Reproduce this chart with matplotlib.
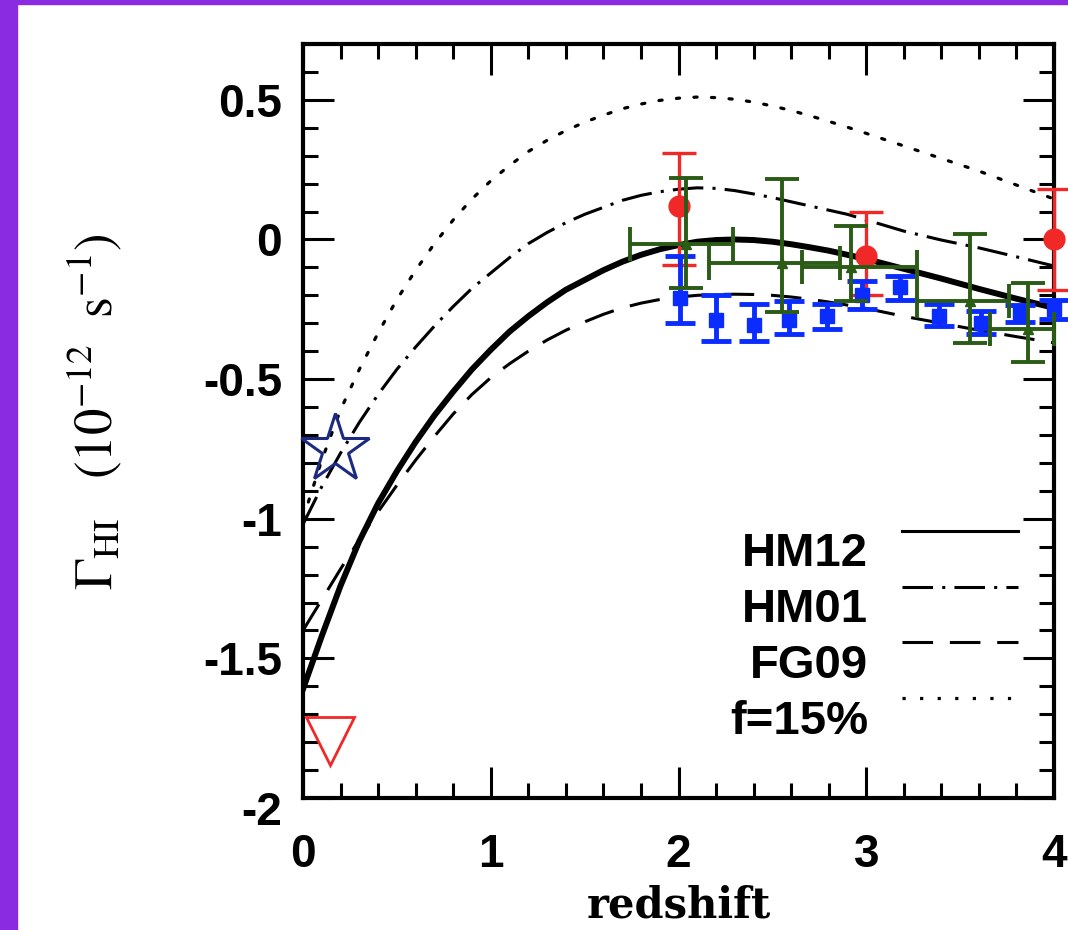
import numpy as np
import matplotlib
matplotlib.use("Agg")
import matplotlib.pyplot as plt
from matplotlib.lines import Line2D
from matplotlib.patches import Rectangle
from matplotlib.legend_handler import HandlerLine2D
from matplotlib.transforms import ScaledTranslation

# model curves: log10 Gamma_HI (1e-12 s^-1) vs redshift
z_model = [0.0, 0.1, 0.2, 0.3, 0.4, 0.5, 0.6, 0.7, 0.8, 0.9, 1.0, 1.1, 1.2, 1.3, 1.4,
           1.5, 1.6, 1.7, 1.8, 1.9, 2.0, 2.1, 2.2, 2.3, 2.4, 2.5, 2.6, 2.7, 2.8, 2.9,
           3.0, 3.2, 3.4, 3.6, 3.8, 4.0]
hm12 = [-1.61, -1.42, -1.24, -1.08, -0.945, -0.83, -0.725, -0.63, -0.545, -0.465,
        -0.395, -0.33, -0.275, -0.225, -0.18, -0.145, -0.11, -0.08, -0.055, -0.035,
        -0.02, -0.008, -0.002, 0.0, -0.002, -0.008, -0.017, -0.028, -0.04, -0.055,
        -0.07, -0.105, -0.14, -0.177, -0.212, -0.245]
hm01 = [-1.02, -0.885, -0.765, -0.655, -0.555, -0.465, -0.385, -0.31, -0.24, -0.175,
        -0.12, -0.065, -0.015, 0.025, 0.06, 0.09, 0.115, 0.14, 0.158, 0.171, 0.18,
        0.185, 0.183, 0.175, 0.163, 0.15, 0.135, 0.12, 0.105, 0.09, 0.07, 0.03,
        -0.002, -0.03, -0.062, -0.095]
fg09 = [-1.40, -1.29, -1.18, -1.075, -0.975, -0.88, -0.79, -0.705, -0.625, -0.555,
        -0.495, -0.445, -0.40, -0.36, -0.325, -0.295, -0.268, -0.245, -0.228, -0.215,
        -0.206, -0.20, -0.197, -0.196, -0.197, -0.20, -0.206, -0.214, -0.224, -0.235,
        -0.247, -0.275, -0.30, -0.325, -0.348, -0.37]
f15 = [-1.0, -0.79, -0.61, -0.465, -0.335, -0.215, -0.11, -0.015, 0.07, 0.145, 0.21,
       0.265, 0.315, 0.355, 0.39, 0.42, 0.445, 0.468, 0.485, 0.498, 0.506, 0.51, 0.508,
       0.502, 0.492, 0.478, 0.462, 0.443, 0.423, 0.402, 0.38, 0.335, 0.29, 0.245, 0.195,
       0.145]

# red circles
red_z = [2.0, 3.0, 4.0]
red_g = [0.12, -0.06, 0.0]
red_lo = [0.21, 0.14, 0.18]
red_hi = [0.19, 0.16, 0.18]

# blue squares
blue_z = [2.01, 2.2, 2.4, 2.59, 2.79, 2.98, 3.18, 3.39, 3.61, 3.82, 4.0]
blue_g = [-0.21, -0.29, -0.305, -0.29, -0.275, -0.20, -0.17, -0.275, -0.30, -0.265, -0.25]
blue_lo = [0.09, 0.075, 0.06, 0.05, 0.045, 0.05, 0.045, 0.035, 0.04, 0.03, 0.035]
blue_hi = [0.15, 0.09, 0.075, 0.07, 0.045, 0.05, 0.04, 0.045, 0.045, 0.03, 0.035]

# green triangles (redshift bins)
green_z = [2.04, 2.55, 2.92, 3.55, 3.86]
green_g = [-0.015, -0.085, -0.10, -0.22, -0.32]
green_zlo = [0.30, 0.39, 0.26, 0.28, 0.20]
green_zhi = [0.25, 0.31, 0.35, 0.21, 0.14]
green_lo = [0.16, 0.175, 0.12, 0.15, 0.12]
green_hi = [0.235, 0.30, 0.15, 0.24, 0.165]

# low-z points
star_z, star_g = [0.17], [-0.75]
tri_z, tri_g = [0.145], [-1.795]

legend_labels = ["HM12", "HM01", "FG09", "f=15%"]
xticks = [0, 1, 2, 3, 4]
yticks = [0.5, 0, -0.5, -1, -1.5, -2]
ytick_labels = ["0.5", "0", "-0.5", "-1", "-1.5", "-2"]


class RaisedLine(HandlerLine2D):
    # legend sample lines sit a bit above the text centre
    def create_artists(self, legend, orig_handle, xdescent, ydescent, width, height,
                       fontsize, trans):
        arts = super().create_artists(legend, orig_handle, xdescent, ydescent, width,
                                      height, fontsize, trans)
        for a in arts:
            a.set_ydata(np.asarray(a.get_ydata()) + 0.4 * fontsize)
        return arts


plt.rcParams["font.family"] = ["Liberation Sans", "DejaVu Sans"]
plt.rcParams["mathtext.fontset"] = "stix"

fig = plt.figure(figsize=(10.68, 9.3), dpi=100)
fig.patches.append(Rectangle((0, 0), 17 / 1068, 1, transform=fig.transFigure,
                             color="#8a2be2", zorder=-1))
fig.patches.append(Rectangle((0, 1 - 4 / 930), 1, 4 / 930, transform=fig.transFigure,
                             color="#8a2be2", zorder=-1))
ax = fig.add_axes([303 / 1068, 1 - 798 / 930, 751 / 1068, 754 / 930])

ax.plot(z_model, f15, color="black", lw=2.3, dashes=(1, 4.5), dash_capstyle="round")
ax.plot(z_model, hm01, color="black", lw=2.2, dashes=(10, 3, 1, 3))
ax.plot(z_model, fg09, color="black", lw=2.2, dashes=(10, 5.5))
ax.plot(z_model, hm12, color="black", lw=4.3)

ax.errorbar(red_z, red_g, yerr=[red_lo, red_hi], fmt="o", color="#f02828", ms=15,
            elinewidth=2.4, capsize=12, capthick=2.4, clip_on=False, zorder=4)
ax.errorbar(blue_z, blue_g, yerr=[blue_lo, blue_hi], fmt="s", color="#0a2cff", ms=10,
            elinewidth=3.5, capsize=11, capthick=3.5, clip_on=False, zorder=5)
ax.errorbar(green_z, green_g, xerr=[green_zlo, green_zhi], yerr=[green_lo, green_hi],
            fmt="^", color="#2a5c16", ms=7, elinewidth=2.8, capsize=12, capthick=2.8,
            clip_on=False, zorder=6)

ax.plot(star_z, star_g, marker="*", ms=52, mfc="none", mec="#1c2a80", mew=2.2,
        ls="none", clip_on=False, zorder=7)
ax.plot(tri_z, tri_g, marker="v", ms=34, mfc="none", mec="#f02828", mew=2.0,
        ls="none", clip_on=False, zorder=7)

ax.set_xlim(0, 4)
ax.set_ylim(-2, 0.7)
ax.set_xticks(xticks)
ax.set_xticks(np.arange(0, 4.01, 0.2), minor=True)
ax.set_yticks(yticks)
ax.set_yticklabels(ytick_labels)
ax.set_yticks(np.arange(-2, 0.71, 0.1), minor=True)
ax.tick_params(which="both", direction="in", top=True, right=True, width=2.2)
ax.tick_params(which="major", length=22, labelsize=33)
ax.tick_params(which="minor", length=11)
ax.tick_params(axis="x", pad=25)
ax.tick_params(axis="y", pad=15)
for lab in ax.get_xticklabels() + ax.get_yticklabels():
    lab.set_fontweight("bold")
# the -2 label sits a little low in the original
lab = ax.get_yticklabels()[-1]
lab.set_transform(lab.get_transform() + ScaledTranslation(0, -0.1, fig.dpi_scale_trans))
for sp in ax.spines.values():
    sp.set_linewidth(3)

ax.set_xlabel("redshift", family="DejaVu Serif", fontsize=30, fontweight="bold")
ax.xaxis.set_label_coords(0.5, -0.115)
ax.xaxis.label.set_va("top")
ax.set_ylabel(r"$\Gamma_{\rm HI}\ \ \ (10^{-12}\ \ {\rm s}^{-1})$", fontsize=38)
ax.yaxis.set_label_coords(-0.238, 0.512)

handles = [Line2D([], [], color="black", lw=2.2),
           Line2D([], [], color="black", lw=2.2, dashes=(10, 3, 1, 3)),
           Line2D([], [], color="black", lw=2.2, dashes=(10, 5.5)),
           Line2D([], [], color="black", lw=2.3, dashes=(1, 4.5))]
leg = ax.legend(handles, legend_labels, loc="lower right", bbox_to_anchor=(0.952, 0.072),
                frameon=False, markerfirst=False, fontsize=34, handlelength=2.45,
                handletextpad=0.72, labelspacing=0.25, borderpad=0, borderaxespad=0,
                handler_map={Line2D: RaisedLine()})
for t in leg.get_texts():
    t.set_fontweight("bold")

fig.savefig("out.png", dpi=100)
